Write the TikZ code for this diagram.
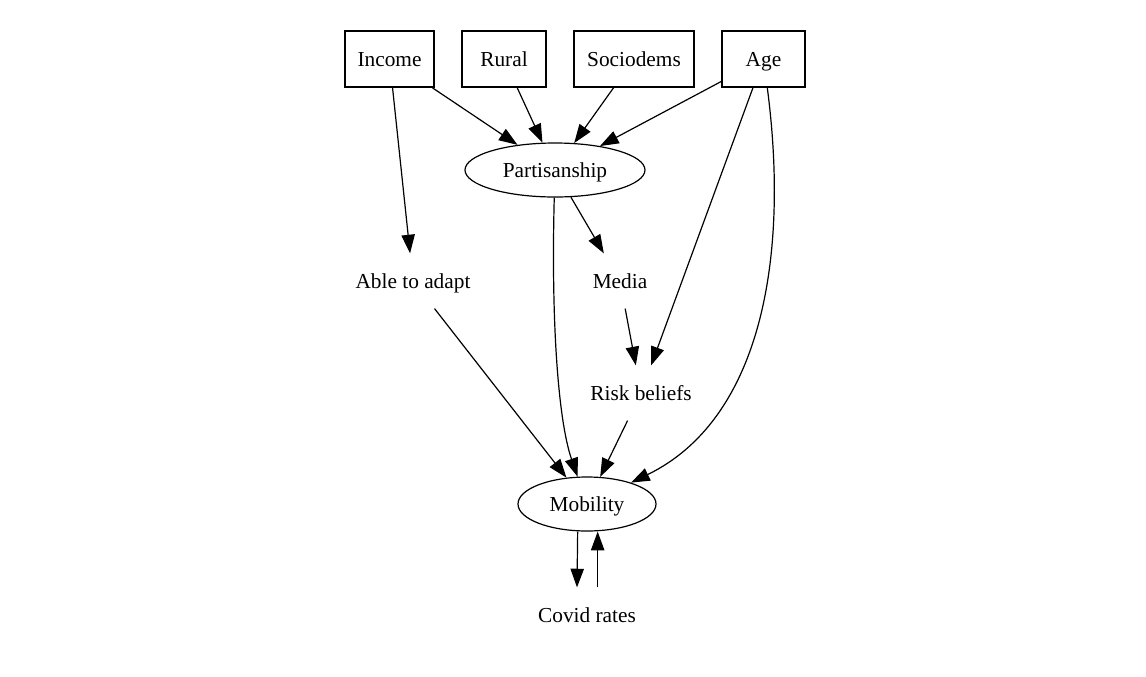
\documentclass[tikz,border=0pt]{standalone}
\usepackage{fontspec}
\setmainfont{Liberation Serif}
\usetikzlibrary{arrows.meta,shapes.geometric}
\begin{document}
\begin{tikzpicture}[
	x=0.75pt,y=-0.75pt,
	font=\fontsize{16}{19}\selectfont,
	line width=0.9pt,
	arr/.style={-{Triangle[length=14pt,width=10pt]}},
	var/.style={draw,rectangle,minimum height=42pt,inner sep=0pt,text height=13pt,text depth=2.5pt},
	lat/.style={draw,ellipse,minimum height=40.5pt,inner sep=0pt,text height=13pt,text depth=2.5pt},
	obs/.style={rectangle,minimum height=40.5pt,inner sep=2pt,text height=13pt,text depth=2.5pt},
	]
\useasboundingbox (0,0) rectangle (1146,676);
% top row
\node [var,minimum width=66.75pt] (income) at (389.5,59) {Income};
\node [var,minimum width=63pt] (rural) at (504,59) {Rural};
\node [var,minimum width=90pt] (socio) at (634,59) {Sociodems};
\node [var,minimum width=62.25pt] (age) at (763.5,59) {Age};
% middle
\node [lat,minimum width=135pt] (partisan) at (555,170) {Partisanship};
\node [obs] (adapt) at (413,281) {Able to adapt};
\node [obs] (media) at (620,281) {Media};
\node [obs] (risk) at (641,393) {Risk beliefs};
% bottom
\node [lat,minimum width=103.5pt] (mobility) at (587,504) {Mobility};
\node [obs] (covid) at (587,615) {Covid rates};

\draw [arr] (income) -- (adapt);
\draw [arr] (income) -- (partisan);
\draw [arr] (rural) -- (partisan);
\draw [arr] (socio) -- (partisan);
\draw [arr] (age) -- (partisan);
\draw [arr] (age) -- (risk);
\draw [arr] (age) .. controls (790,260) and (760,420) .. (mobility);
\draw [arr] (partisan) -- (media);
\draw [arr] (partisan) .. controls (551,320) and (558,420) .. (mobility);
\draw [arr] (media) -- (risk);
\draw [arr] (adapt) -- (mobility);
\draw [arr] (risk) -- (mobility);
\draw [arr] ([xshift=-7pt]mobility.south) -- ([xshift=-7.5pt]covid.north);
\draw [arr] ([xshift=8pt]covid.north) -- ([xshift=8pt]mobility.south);
\end{tikzpicture}
\end{document}
